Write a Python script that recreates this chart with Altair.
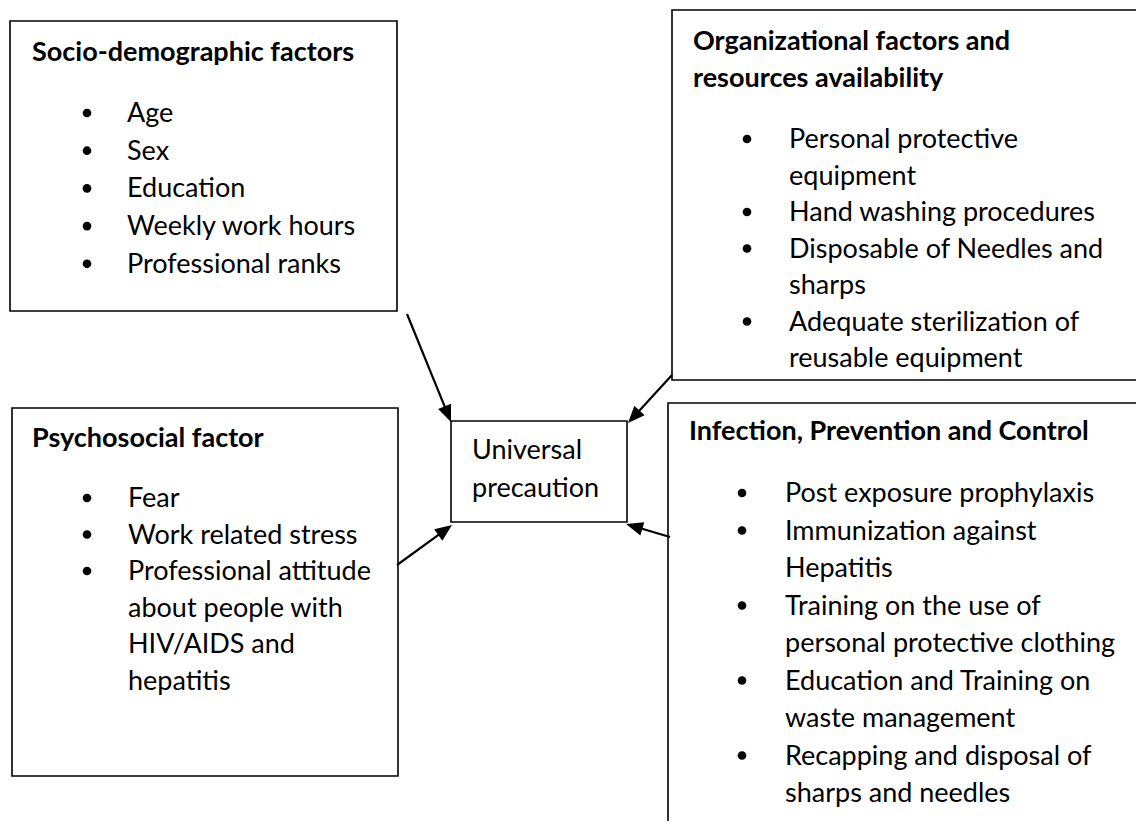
import math
import altair as alt
import pandas as pd

# ---------------- text content ----------------
socio_title = ["Socio-demographic factors"]
socio_items = [["Age"], ["Sex"], ["Education"], ["Weekly work hours"], ["Professional ranks"]]

org_title = ["Organizational factors and", "resources availability"]
org_items = [["Personal protective", "equipment"], ["Hand washing procedures"],
             ["Disposable of Needles and", "sharps"],
             ["Adequate sterilization of", "reusable equipment"]]

psy_title = ["Psychosocial factor"]
psy_items = [["Fear"], ["Work related stress"],
             ["Professional attitude", "about people with", "HIV/AIDS and", "hepatitis"]]

ipc_title = ["Infection, Prevention and Control"]
ipc_items = [["Post exposure prophylaxis"], ["Immunization against", "Hepatitis"],
             ["Training on the use of", "personal protective clothing"],
             ["Education and Training on", "waste management"],
             ["Recapping and disposal of", "sharps and needles"]]

center_lines = ["Universal", "precaution"]

# ---------------- layout (page pixel coordinates) ----------------
box_x = [10, 672, 12, 668, 451]
box_x2 = [397, 1160, 398, 1160, 627]
box_y = [21, 10, 408, 403, 421]
box_y2 = [311, 380, 776, 845, 522]

# title_x, title_y, title_dy, bullet_x, text_x, item_y0, item_dy
box_layout = [
    (socio_title, socio_items, 32, 61, 37, 87, 127, 122, 37.7),
    (org_title, org_items, 693, 50, 37, 747, 789, 148, 36.5),
    (psy_title, psy_items, 32, 447, 37, 87, 128, 507, 36.5),
    (ipc_title, ipc_items, 689, 440, 37, 742, 785, 502, 37.5),
]

arrow_from_x = [407, 672, 397, 670]
arrow_from_y = [314, 375, 565, 537]
arrow_to_x = [451, 628, 452, 626]
arrow_to_y = [422, 423, 525, 524]

FONT = "Lato"
FS = 27

titles, lines, bullets = [], [], []
for title, items, tx, ty, tdy, bx, ix, iy0, idy in box_layout:
    for k, t in enumerate(title):
        titles.append({"x": tx, "y": ty + k * tdy, "t": t})
    row = 0
    for item in items:
        bullets.append({"x": bx, "y": iy0 + row * idy - 9})
        for ln in item:
            lines.append({"x": ix, "y": iy0 + row * idy, "t": ln})
            row += 1
for k, t in enumerate(center_lines):
    lines.append({"x": 472, "y": 459 + k * 38, "t": t})

boxes = pd.DataFrame({"x": box_x, "x2": box_x2, "y": box_y, "y2": box_y2})

L = 17  # arrowhead length
shafts, heads = [], []
for fx, fy, tx_, ty_ in zip(arrow_from_x, arrow_from_y, arrow_to_x, arrow_to_y):
    dx, dy = tx_ - fx, ty_ - fy
    d = math.hypot(dx, dy)
    ux, uy = dx / d, dy / d
    shafts.append({"x": fx, "y": fy, "x2": tx_ - ux * (L - 2), "y2": ty_ - uy * (L - 2)})
    ang = math.degrees(math.atan2(dx, -dy)) % 360
    heads.append({"x": tx_, "y": ty_, "a": ang})

# page is 1144 x 829 with an 8px margin -> drawing area 8..1136 x 8..821
W, H = 1128, 813
xs = alt.Scale(domain=[8, 8 + W])
ys = alt.Scale(domain=[8 + H, 8])

box_layer = alt.Chart(boxes).mark_rect(
    fillOpacity=0, stroke="black", strokeWidth=1.6, clip=True
).encode(
    x=alt.X("x:Q", scale=xs, axis=None), x2="x2:Q",
    y=alt.Y("y:Q", scale=ys, axis=None), y2="y2:Q",
)

shaft_layer = alt.Chart(pd.DataFrame(shafts)).mark_rule(
    color="black", strokeWidth=2.2
).encode(
    x=alt.X("x:Q", scale=xs, axis=None), x2="x2:Q",
    y=alt.Y("y:Q", scale=ys, axis=None), y2="y2:Q",
)

head_layer = alt.Chart(pd.DataFrame(heads)).mark_point(
    shape="M0,0 L0.82,2 L-0.82,2 Z", filled=True, color="black",
    size=L * L, opacity=1, strokeWidth=0
).encode(
    x=alt.X("x:Q", scale=xs, axis=None),
    y=alt.Y("y:Q", scale=ys, axis=None),
    angle=alt.Angle("a:Q", scale=None),
)

bullet_layer = alt.Chart(pd.DataFrame(bullets)).mark_point(
    shape="circle", filled=True, color="black", size=75, opacity=1, strokeWidth=0
).encode(
    x=alt.X("x:Q", scale=xs, axis=None),
    y=alt.Y("y:Q", scale=ys, axis=None),
)

title_layer = alt.Chart(pd.DataFrame(titles)).mark_text(
    align="left", baseline="alphabetic", font=FONT, fontSize=FS, fontWeight="bold", color="black"
).encode(
    x=alt.X("x:Q", scale=xs, axis=None),
    y=alt.Y("y:Q", scale=ys, axis=None),
    text="t:N",
)

line_layer = alt.Chart(pd.DataFrame(lines)).mark_text(
    align="left", baseline="alphabetic", font=FONT, fontSize=FS, color="black"
).encode(
    x=alt.X("x:Q", scale=xs, axis=None),
    y=alt.Y("y:Q", scale=ys, axis=None),
    text="t:N",
)

chart = alt.layer(
    box_layer, shaft_layer, head_layer, bullet_layer, title_layer, line_layer
).properties(
    width=W, height=H, padding=0, autosize=alt.AutoSizeParams(type="none"), background="white"
).configure_view(stroke=None)

chart.save("out.html", embed_options={"renderer": "svg", "actions": False})
